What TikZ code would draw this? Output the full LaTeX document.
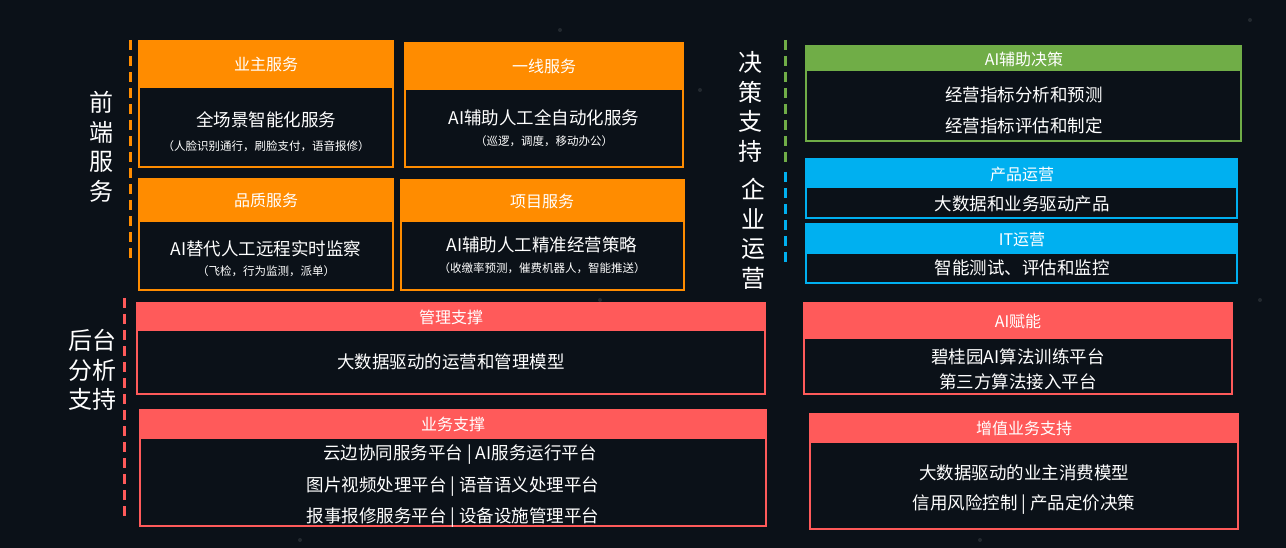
\documentclass[tikz,border=0pt]{standalone}
\usepackage{fontspec}
\setmainfont{Noto Sans CJK SC}
\usetikzlibrary{fit}
\definecolor{bg}{HTML}{0B1118}
\definecolor{orng}{HTML}{FF8C00}
\definecolor{coral}{HTML}{FF5A5A}
\definecolor{grn}{HTML}{70AD47}
\definecolor{sky}{HTML}{00B0F0}
\newcommand\vbar{\hspace{4pt}|\hspace{4pt}}
\tikzset{
 frame/.style={draw=#1, line width=2.5pt, fill=bg, inner sep=0pt},
 hdr/.style={fill=#1, inner sep=0pt},
 ttl/.style={text=white, font=\fontsize{16}{18}\selectfont, inner sep=0pt},
 main/.style={text=white, font=\fontsize{17.5}{20}\selectfont, inner sep=0pt},
 sub/.style={text=white, font=\fontsize{11.5}{13}\selectfont, inner sep=0pt},
 side/.style={text=white, font=\fontsize{24}{29.5}\selectfont, align=center, inner sep=0pt},
 dsh/.style={draw=#1, line width=3pt, dash pattern=on 10pt off 6pt},
}
\begin{document}
\begin{tikzpicture}[x=1pt,y=-1pt]
\fill[bg] (0,0) rectangle (1286,548);
\useasboundingbox (0,0) rectangle (1286,548);
% faint stars
\foreach \p in {(560,30),(700,90),(730,320),(1180,370),(1100,250),(300,540),(1250,20),(980,540),(600,300),(1260,300)}
  \fill[white, opacity=0.1] \p circle (2);

% ---- side labels and dashed lines
\node[side] (fe) at (101,147) {前\\端\\服\\务};
\coordinate (fa) at (130,40); \coordinate (fb) at (130,262);
\draw[dsh=orng] (fa) -- (fb);
\node[side] (bk) at (92,370) {后台\\分析\\支持};
\coordinate (ra) at (124,298); \coordinate (rb) at (124,518);
\draw[dsh=coral] (ra) -- (rb);
\node[side] (jc) at (750,107) {决\\策\\支\\持};
\coordinate (ga) at (785,40); \coordinate (gb) at (785,165);
\draw[dsh=grn] (ga) -- (gb);
\node[side] (qy) at (753,234) {企\\业\\运\\营};
\coordinate (sa) at (785,172); \coordinate (sb) at (785,268);
\draw[dsh=sky] (sa) -- (sb);

% ---- orange boxes
\node[frame=orng, fit={(139,41) (393,167)}] (b1) {};
\node[hdr=orng, fit={(139,41) (393,88)}] (h1) {};
\node[ttl] (t1) at (266,64) {业主服务};
\node[main] (m1) at (266,120) {全场景智能化服务};
\node[sub] (s1) at (266,146) {（人脸识别通行，刷脸支付，语音报修）};

\node[frame=orng, fit={(405,43) (683,167)}] (b2) {};
\node[hdr=orng, fit={(405,43) (683,90)}] (h2) {};
\node[ttl] (t2) at (544,66) {一线服务};
\node[main] (m2) at (544,118) {AI辅助人工全自动化服务};
\node[sub] (s2) at (544,141) {（巡逻，调度，移动办公）};

\node[frame=orng, fit={(139,179) (393,290)}] (b3) {};
\node[hdr=orng, fit={(139,179) (393,222)}] (h3) {};
\node[ttl] (t3) at (266,200) {品质服务};
\node[main] (m3) at (266,249) {AI替代人工远程实时监察};
\node[sub] (s3) at (266,271) {（飞检，行为监测，派单）};

\node[frame=orng, fit={(401,180) (684,290)}] (b4) {};
\node[hdr=orng, fit={(401,180) (684,222)}] (h4) {};
\node[ttl] (t4) at (542,201) {项目服务};
\node[main] (m4) at (542,245) {AI辅助人工精准经营策略};
\node[sub] (s4) at (542,268) {（收缴率预测，催费机器人，智能推送）};

% ---- coral boxes left
\node[frame=coral, fit={(137,303) (765,394)}] (b5) {};
\node[hdr=coral, fit={(137,303) (765,331)}] (h5) {};
\node[ttl] (t5) at (451,317) {管理支撑};
\node[main] (m5) at (451,362) {大数据驱动的运营和管理模型};

\node[frame=coral, fit={(140,410) (766,526)}] (b6) {};
\node[hdr=coral, fit={(140,410) (766,439)}] (h6) {};
\node[ttl] (t6) at (453,424) {业务支撑};
\node[main] (m6a) at (460,455) {云边协同服务平台\vbar AI服务运行平台};
\node[main] (m6b) at (453,487) {图片视频处理平台\vbar 语音语义处理平台};
\node[main] (m6c) at (453,518) {报事报修服务平台\vbar 设备设施管理平台};

% ---- right side
\node[frame=grn, fit={(806,46) (1241,141)}] (b7) {};
\node[hdr=grn, fit={(806,46) (1241,71)}] (h7) {};
\node[ttl] (t7) at (1024,59) {AI辅助决策};
\node[main] (m7a) at (1024,95) {经营指标分析和预测};
\node[main] (m7b) at (1024,126) {经营指标评估和制定};

\node[frame=sky, fit={(806,159) (1237,218)}] (b8) {};
\node[hdr=sky, fit={(806,159) (1237,188)}] (h8) {};
\node[ttl] (t8) at (1022,174) {产品运营};
\node[main] (m8) at (1022,204) {大数据和业务驱动产品};

\node[frame=sky, fit={(806,224) (1237,283)}] (b9) {};
\node[hdr=sky, fit={(806,224) (1237,254)}] (h9) {};
\node[ttl] (t9) at (1022,239) {IT运营};
\node[main] (m9) at (1022,268) {智能测试、评估和监控};

\node[frame=coral, fit={(804,303) (1232,394)}] (b10) {};
\node[hdr=coral, fit={(804,303) (1232,339)}] (h10) {};
\node[ttl] (t10) at (1018,321) {AI赋能};
\node[main] (m10a) at (1018,357) {碧桂园AI算法训练平台};
\node[main] (m10b) at (1018,382) {第三方算法接入平台};

\node[frame=coral, fit={(810,414) (1238,529)}] (b11) {};
\node[hdr=coral, fit={(810,414) (1238,443)}] (h11) {};
\node[ttl] (t11) at (1024,428) {增值业务支持};
\node[main] (m11a) at (1024,473) {大数据驱动的业主消费模型};
\node[main] (m11b) at (1024,505) {信用风险控制\vbar 产品定价决策};
\end{tikzpicture}
\end{document}
